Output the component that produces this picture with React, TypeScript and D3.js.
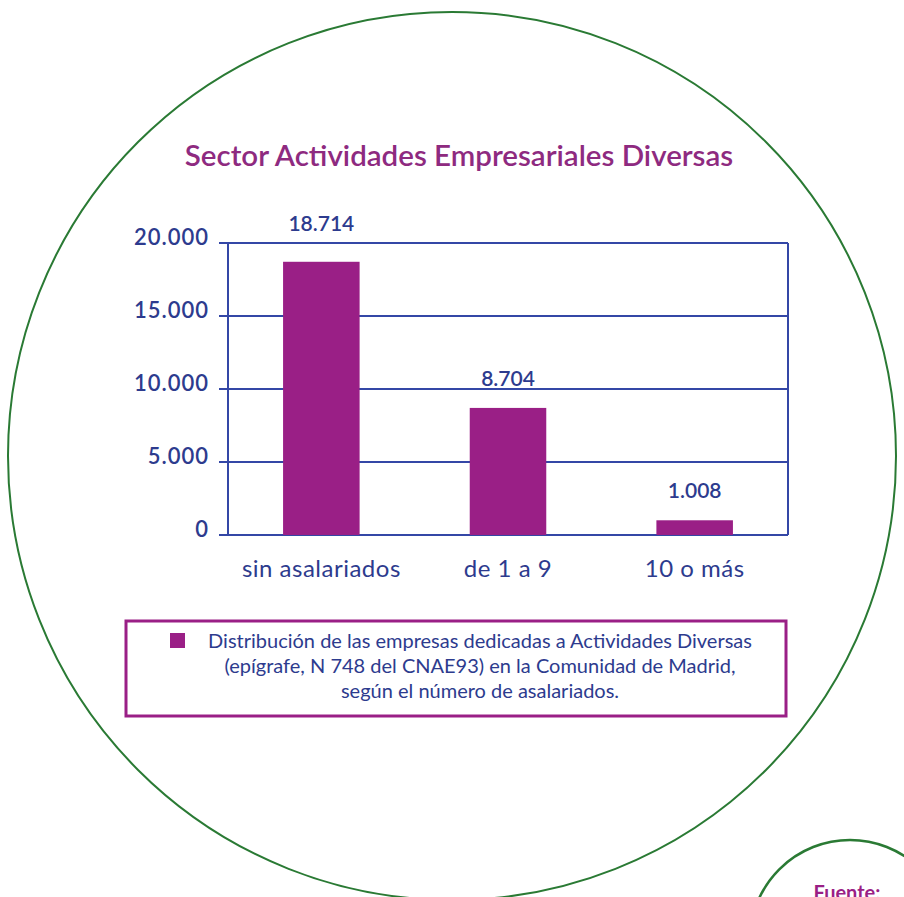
import { useEffect, useRef } from "react";
import * as d3 from "d3";

const categories = ["sin asalariados", "de 1 a 9", "10 o más"];
const values = [18714, 8704, 1008];
const valueLabels = ["18.714", "8.704", "1.008"];
const yTicks = [0, 5000, 10000, 15000, 20000];
const yTickLabels = ["0", "5.000", "10.000", "15.000", "20.000"];
const title = "Sector Actividades Empresariales Diversas";
const legendLines = [
  "Distribución de las empresas dedicadas a Actividades Diversas",
  "(epígrafe, N 748 del CNAE93) en la Comunidad de Madrid,",
  "según el número de asalariados.",
];

const W = 904;
const H = 897;
const PURPLE = "#9a1f86";
const TITLE_PURPLE = "#8e2a80";
const BLUE = "#3447a6";
const TEXT_BLUE = "#2d3b8e";
const GREEN = "#2a7a34";
const FONT = "Lato, 'Noto Sans', sans-serif";

const App = () => {
  const svgRef = useRef<SVGSVGElement>(null);

  useEffect(() => {
    const svg = d3.select(svgRef.current);
    svg.selectAll("*").remove();

    // decorative circles
    svg.append("circle")
      .attr("cx", 452).attr("cy", 456).attr("r", 444)
      .attr("fill", "none").attr("stroke", GREEN).attr("stroke-width", 2);
    svg.append("circle")
      .attr("cx", 850).attr("cy", 940).attr("r", 100)
      .attr("fill", "white").attr("stroke", GREEN).attr("stroke-width", 2.5);
    svg.append("text")
      .attr("x", 847).attr("y", 900)
      .attr("text-anchor", "middle")
      .attr("font-family", FONT).attr("font-weight", "bold").attr("font-size", 20)
      .attr("fill", PURPLE)
      .text("Fuente:");

    // title
    svg.append("text")
      .attr("x", 459).attr("y", 166)
      .attr("text-anchor", "middle")
      .attr("font-family", FONT).attr("font-size", 29.5).attr("font-weight", 600)
      .attr("fill", TITLE_PURPLE)
      .text(title);

    const left = 228, right = 788, top = 243, bottom = 535;

    const x = d3.scaleBand()
      .domain(categories)
      .range([left, right])
      .paddingInner(0.59)
      .paddingOuter(0.295);

    const y = d3.scaleLinear()
      .domain([0, 20000])
      .range([bottom, top]);

    const g = svg.append("g");

    // gridlines + ticks
    g.selectAll(".grid")
      .data(yTicks)
      .join("line")
      .attr("x1", left - 9).attr("x2", right)
      .attr("y1", d => y(d)).attr("y2", d => y(d))
      .attr("stroke", BLUE).attr("stroke-width", 2);

    g.selectAll(".ylab")
      .data(yTicks)
      .join("text")
      .attr("x", left - 19)
      .attr("y", d => y(d) + 2)
      .attr("text-anchor", "end")
      .attr("font-family", FONT).attr("font-size", 22).attr("font-weight", 600)
      .attr("letter-spacing", 1)
      .attr("fill", TEXT_BLUE)
      .text((d, i) => yTickLabels[i]);

    // plot frame verticals
    g.append("line")
      .attr("x1", left).attr("x2", left).attr("y1", top).attr("y2", bottom)
      .attr("stroke", BLUE).attr("stroke-width", 2);
    g.append("line")
      .attr("x1", right).attr("x2", right).attr("y1", top).attr("y2", bottom)
      .attr("stroke", BLUE).attr("stroke-width", 2);

    // bars
    g.selectAll(".bar")
      .data(values)
      .join("rect")
      .attr("x", (d, i) => x(categories[i])!)
      .attr("width", x.bandwidth())
      .attr("y", d => y(d))
      .attr("height", d => bottom - y(d))
      .attr("fill", PURPLE);

    // value labels, lifted above the top gridline when they would collide with it
    g.selectAll(".vlab")
      .data(values)
      .join("text")
      .attr("x", (d, i) => x(categories[i])! + x.bandwidth() / 2)
      .attr("y", d => {
        const ly = y(d) - 22;
        return Math.abs(ly - top) < 16 ? top - 12 : ly;
      })
      .attr("text-anchor", "middle")
      .attr("font-family", FONT).attr("font-size", 21).attr("font-weight", 600)
      .attr("fill", TEXT_BLUE)
      .text((d, i) => valueLabels[i]);

    g.selectAll(".xlab")
      .data(categories)
      .join("text")
      .attr("x", d => x(d)! + x.bandwidth() / 2)
      .attr("y", 577)
      .attr("text-anchor", "middle")
      .attr("font-family", FONT).attr("font-size", 24)
      .attr("letter-spacing", 0.5)
      .attr("fill", TEXT_BLUE)
      .text(d => d);

    // legend box
    svg.append("rect")
      .attr("x", 126).attr("y", 621).attr("width", 660).attr("height", 95)
      .attr("fill", "white").attr("stroke", PURPLE).attr("stroke-width", 3);
    svg.append("rect")
      .attr("x", 170).attr("y", 633).attr("width", 15).attr("height", 15)
      .attr("fill", PURPLE);
    svg.selectAll(".leg")
      .data(legendLines)
      .join("text")
      .attr("x", 480)
      .attr("y", (d, i) => 648 + i * 25)
      .attr("text-anchor", "middle")
      .attr("font-family", FONT).attr("font-size", 20)
      .attr("fill", TEXT_BLUE)
      .text(d => d);
  }, []);

  return (
    <div style={{ position: "absolute", left: 0, top: 0 }}>
      <svg ref={svgRef} width={W} height={H} style={{ display: "block", background: "white" }} />
    </div>
  );
};

export default App;
